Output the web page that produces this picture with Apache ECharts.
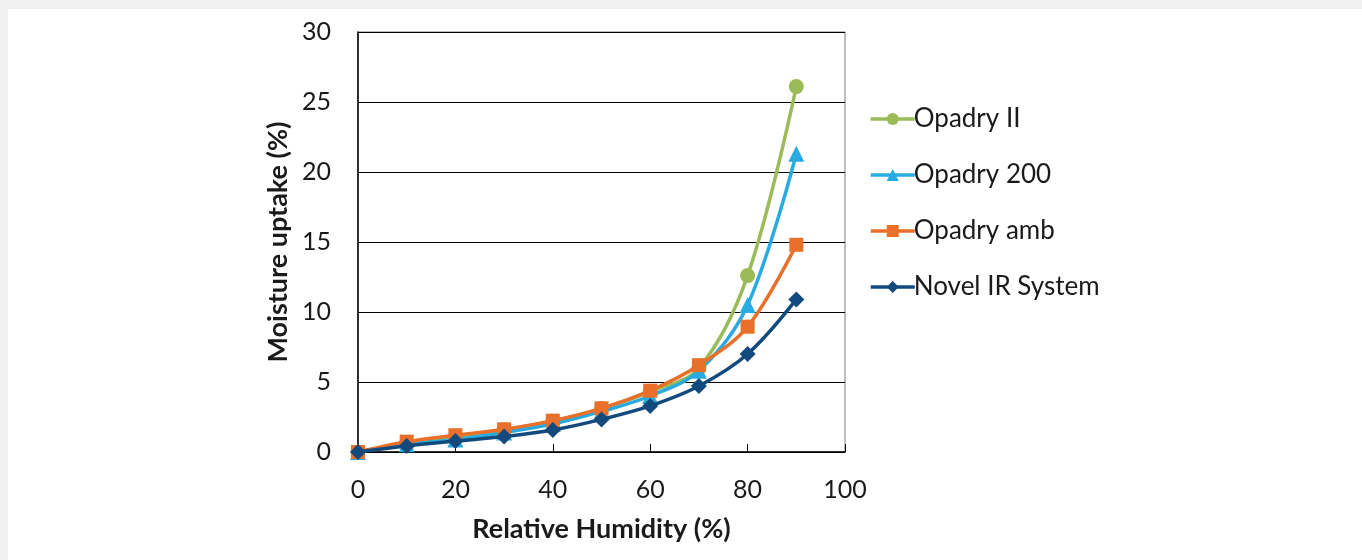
<!DOCTYPE html>
<html><head><meta charset="utf-8">
<script src="https://cdn.jsdelivr.net/npm/echarts@6/dist/echarts.min.js"></script>
<style>
html,body{margin:0;padding:0;background:#f1f1f1;}
#frame{position:absolute;left:8px;top:9px;width:1354px;height:551px;background:#fff;}
#c{position:absolute;left:-8px;top:-9px;width:1362px;height:560px;}
</style></head>
<body><div id="frame"><div id="c"></div></div>
<script>
const humidity = [0, 10, 20, 30, 40, 50, 60, 70, 80, 90];
const opadryII = [0, 0.65, 1.1, 1.6, 2.2, 3.1, 4.3, 6.0, 12.6, 26.1];
const opadry200 = [0, 0.55, 0.9, 1.4, 2.0, 2.9, 4.0, 5.8, 10.5, 21.3];
const opadryAmb = [0, 0.74, 1.2, 1.62, 2.24, 3.12, 4.38, 6.2, 8.95, 14.8];
const novelIR = [0, 0.43, 0.78, 1.1, 1.57, 2.33, 3.29, 4.71, 7.0, 10.9];
const seriesNames = ['Opadry II', 'Opadry 200', 'Opadry amb', 'Novel IR System'];
const colors = ['#9bbb59', '#29abe2', '#e8702a', '#124a7e'];
const symbols = ['circle', 'triangle', 'rect', 'diamond'];
const symbolSizes = [15, 16, 14, 16];
const seriesData = [opadryII, opadry200, opadryAmb, novelIR];

const font = 'Lato, "Open Sans", sans-serif';
const chart = echarts.init(document.getElementById('c'), null, {renderer: 'canvas'});
chart.setOption({
  backgroundColor: 'transparent',
  animation: false,
  grid: {left: 358, right: 517, top: 32, bottom: 108, show: true, borderColor: '#7f7f7f', borderWidth: 1, backgroundColor: 'transparent'},
  legend: {
    orient: 'vertical', left: 864, top: 101, itemGap: 30, itemWidth: 44, itemHeight: 15,
    lineStyle: {width: 3.5},
    textStyle: {fontFamily: font, fontSize: 26, color: '#1a1a1a', padding: [0, 0, 0, -6]},
    data: seriesNames
  },
  xAxis: {
    type: 'value', min: 0, max: 100, interval: 20,
    name: 'Relative Humidity (%)', nameLocation: 'middle', nameGap: 64,
    nameTextStyle: {fontFamily: font, fontSize: 27, fontWeight: 'bold', color: '#1a1a1a'},
    axisLine: {show: true, onZero: false, lineStyle: {color: '#000', width: 1.5}},
    axisTick: {show: true, inside: true, length: 8, lineStyle: {color: '#000'}},
    axisLabel: {fontFamily: font, fontSize: 25, color: '#1a1a1a', margin: 25},
    splitLine: {show: false}
  },
  yAxis: {
    type: 'value', min: 0, max: 30, interval: 5,
    name: 'Moisture uptake (%)', nameLocation: 'middle', nameGap: 66, nameRotate: 90,
    nameTextStyle: {fontFamily: font, fontSize: 27, fontWeight: 'bold', color: '#1a1a1a'},
    axisLine: {show: true, lineStyle: {color: '#000', width: 1.5}},
    axisTick: {show: false},
    axisLabel: {fontFamily: font, fontSize: 25, color: '#1a1a1a', margin: 27},
    splitLine: {show: true, lineStyle: {color: '#000', width: 1}}
  },
  series: seriesNames.map((n, i) => ({
    name: n, type: 'line', smooth: 0.35,
    data: humidity.map((h, j) => [h, seriesData[i][j]]),
    symbol: symbols[i], symbolSize: symbolSizes[i], showSymbol: true,
    itemStyle: {color: colors[i]},
    lineStyle: {color: colors[i], width: 3.5},
    z: 10 + i
  }))
});
</script></body></html>
